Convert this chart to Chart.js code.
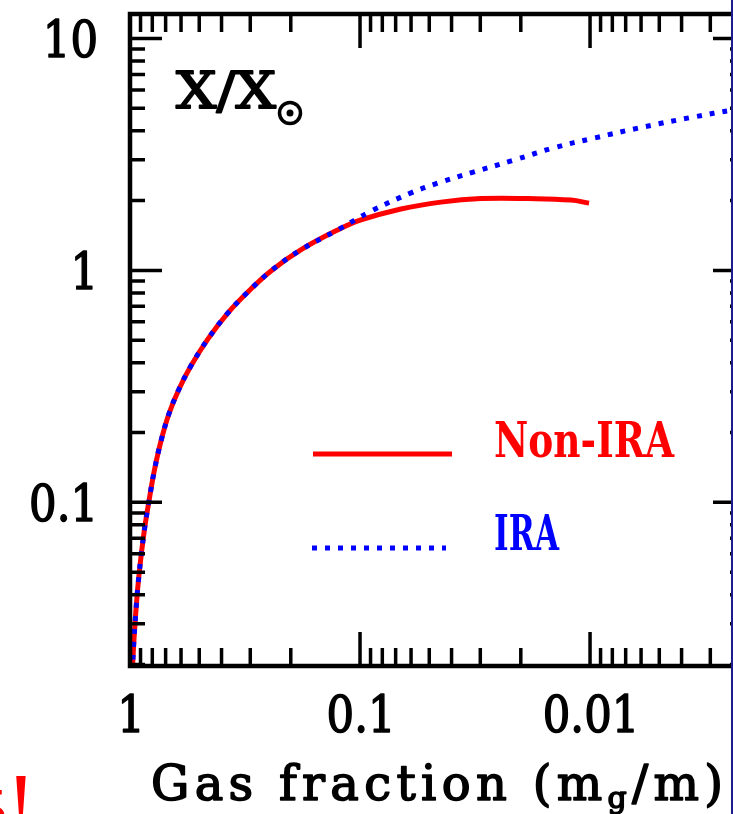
<!DOCTYPE html>
<html>
<head>
<meta charset="utf-8">
<script src="https://cdn.jsdelivr.net/npm/chart.js@4.4.0/dist/chart.umd.min.js"></script>
<style>
html, body { margin: 0; padding: 0; background: #fff; overflow: hidden; width: 733px; height: 814px; }
#wrap { position: relative; width: 733px; height: 814px; overflow: hidden; }
#edge { position: absolute; right: 0; top: 0; width: 2px; height: 814px; background: #1d1d8a; }
</style>
</head>
<body>
<div id="wrap"><canvas id="chart" width="760" height="814"></canvas><div id="edge"></div></div>
<script>
// gas fraction (m_g/m) and abundance X/X_sun, non-instantaneous recycling
var gasNonIRA   = [0.985, 0.973, 0.942, 0.911, 0.867, 0.824, 0.784, 0.733, 0.677, 0.612, 0.543, 0.458, 0.375, 0.307, 0.244, 0.181, 0.125, 0.099, 0.0664, 0.0445, 0.0298, 0.0186, 0.0121, 0.0101];
var abundNonIRA = [0.0125, 0.0203, 0.0344, 0.0502, 0.0754, 0.1035, 0.137, 0.184, 0.241, 0.308, 0.388, 0.507, 0.656, 0.808, 0.995, 1.226, 1.495, 1.65, 1.84, 1.97, 2.04, 2.04, 2.01, 1.95];

// instantaneous recycling approximation
var gasIRA   = [0.985, 0.973, 0.942, 0.911, 0.867, 0.824, 0.784, 0.733, 0.677, 0.612, 0.543, 0.458, 0.375, 0.307, 0.244, 0.181, 0.125, 0.0896, 0.060, 0.0458, 0.0319, 0.0214, 0.01435, 0.0096, 0.00582, 0.00353, 0.00239, 0.0021];
var abundIRA = [0.0125, 0.0203, 0.0344, 0.0502, 0.0754, 0.1035, 0.137, 0.184, 0.241, 0.308, 0.388, 0.507, 0.656, 0.808, 0.995, 1.226, 1.495, 1.80, 2.16, 2.38, 2.66, 2.99, 3.38, 3.72, 4.16, 4.59, 4.92, 5.0];

var xTickValues = [1, 0.1, 0.01];
var xTickLabels = ['1', '0.1', '0.01'];
var yTickValues = [10, 1, 0.1];
var yTickLabels = ['10', '1', '0.1'];

var xRange = [0.00212, 1];
var yRange = [0.0197, 12.75];

function toPoints(xs, ys) {
	return xs.map(function(v, i){ return {x: v, y: ys[i]}; });
}

// major / minor positions of a log axis between lo and hi
function logTicks(lo, hi) {
	var major = [], minor = [];
	for (var e = Math.floor(Math.log10(lo)); e <= Math.ceil(Math.log10(hi)); e++) {
		for (var k = 1; k <= 9; k++) {
			var v = k * Math.pow(10, e);
			if (v < lo * 0.999 || v > hi * 1.001) continue;
			(k === 1 ? major : minor).push(v);
		}
	}
	return {major: major, minor: minor};
}

// text with a horizontal squeeze and a thin outline to thicken the strokes
function label(ctx, str, x, y, font, align, sx, color, heavy) {
	ctx.save();
	ctx.font = font;
	ctx.fillStyle = color || '#000';
	ctx.strokeStyle = color || '#000';
	ctx.textAlign = 'left';
	ctx.textBaseline = 'alphabetic';
	var w = ctx.measureText(str).width * sx;
	var left = align === 'right' ? x - w : (align === 'center' ? x - w / 2 : x);
	ctx.translate(left, y);
	ctx.scale(sx, 1);
	ctx.fillText(str, 0, 0);
	if (heavy) {
		ctx.lineWidth = heavy;
		ctx.lineJoin = 'round';
		ctx.strokeText(str, 0, 0);
	}
	ctx.restore();
}

function fitLabel(ctx, str, left, y, width, font, color, heavy) {
	ctx.save();
	ctx.font = font;
	var sx = width / ctx.measureText(str).width;
	ctx.restore();
	label(ctx, str, left, y, font, 'left', sx, color, heavy);
}

// letters spread out evenly across a width, parts may be shifted (subscripts)
function spacedRun(ctx, parts, left, y, width, heavy) {
	var chars = [];
	ctx.save();
	ctx.fillStyle = '#000';
	ctx.strokeStyle = '#000';
	ctx.lineWidth = heavy;
	ctx.lineJoin = 'round';
	ctx.textAlign = 'left';
	ctx.textBaseline = 'alphabetic';
	parts.forEach(function(p){
		ctx.font = p.font;
		for (var i = 0; i < p.t.length; i++) {
			chars.push({c: p.t[i], font: p.font, dy: p.dy || 0, w: ctx.measureText(p.t[i]).width});
		}
	});
	var natural = chars.reduce(function(a, c){ return a + c.w; }, 0);
	var gap = (width - natural) / (chars.length - 1);
	var cx = left;
	chars.forEach(function(c){
		ctx.font = c.font;
		ctx.fillText(c.c, cx, y + c.dy);
		ctx.strokeText(c.c, cx, y + c.dy);
		cx += c.w + gap;
	});
	ctx.restore();
}

var SERIF = '"DejaVu Serif", serif';

var frame = {
	id: 'frame',
	afterDraw: function(chart) {
		var ctx = chart.ctx, a = chart.chartArea;
		var xs = chart.scales.x, ys = chart.scales.y;
		var xt = logTicks(xRange[0], xRange[1]);
		var yt = logTicks(yRange[0], yRange[1]);

		ctx.save();
		ctx.strokeStyle = '#000';
		ctx.lineCap = 'butt';
		ctx.lineWidth = 3.5;
		ctx.beginPath();
		// bottom and top ticks, pointing inward
		xt.major.concat(xt.minor).forEach(function(v){
			var px = xs.getPixelForValue(v);
			var len = xt.major.indexOf(v) >= 0 ? 34 : 18;
			ctx.moveTo(px, a.bottom); ctx.lineTo(px, a.bottom - len);
			ctx.moveTo(px, a.top); ctx.lineTo(px, a.top + len);
		});
		// left and right ticks
		yt.major.concat(yt.minor).forEach(function(v){
			var py = ys.getPixelForValue(v);
			var len = yt.major.indexOf(v) >= 0 ? 32 : 15;
			ctx.moveTo(a.left, py); ctx.lineTo(a.left + len, py);
			ctx.moveTo(a.right, py); ctx.lineTo(a.right - len, py);
		});
		ctx.stroke();

		ctx.lineWidth = 4.5;
		ctx.strokeRect(a.left, a.top, a.right - a.left, a.bottom - a.top);
		ctx.restore();

		// tick labels
		xTickValues.forEach(function(v, i){
			label(ctx, xTickLabels[i], xs.getPixelForValue(v) + 1, 732, '51px ' + SERIF, 'center', 0.85, '#000', 1.6);
		});
		yTickValues.forEach(function(v, i){
			label(ctx, yTickLabels[i], 98, ys.getPixelForValue(v) + 18.5, '51px ' + SERIF, 'right', 0.85, '#000', 1.6);
		});

		// axis titles
		spacedRun(ctx, [
			{t: 'Gas fraction (m', font: '48px ' + SERIF},
			{t: 'g', font: '30px ' + SERIF, dy: 8},
			{t: '/m)', font: '48px ' + SERIF}
		], 151, 800, 572, 1.6);

		fitLabel(ctx, 'X/X', 176, 108, 100, '50px ' + SERIF, '#000', 1.8);
		ctx.save();
		ctx.strokeStyle = '#000';
		ctx.fillStyle = '#000';
		ctx.lineWidth = 3.5;
		ctx.beginPath();
		ctx.arc(290, 113, 10.5, 0, Math.PI * 2);
		ctx.stroke();
		ctx.beginPath();
		ctx.arc(290, 113, 3.5, 0, Math.PI * 2);
		ctx.fill();
		ctx.restore();

		// key
		ctx.save();
		ctx.lineCap = 'butt';
		ctx.strokeStyle = '#ff0000';
		ctx.lineWidth = 5;
		ctx.beginPath(); ctx.moveTo(313, 454); ctx.lineTo(452, 454); ctx.stroke();
		ctx.strokeStyle = '#0000ff';
		ctx.lineWidth = 5;
		ctx.setLineDash([5, 8]);
		ctx.beginPath(); ctx.moveTo(312, 548); ctx.lineTo(446, 548); ctx.stroke();
		ctx.restore();
		fitLabel(ctx, 'Non-IRA', 494, 457, 180, 'bold 48px ' + SERIF, '#ff0000');
		fitLabel(ctx, 'IRA', 494, 550, 65, 'bold 48px ' + SERIF, '#0000ff');

		// stray red marks at the lower left edge
		label(ctx, '5', 7, 829, '60px "Liberation Serif"', 'right', 1, '#ff0000');
		label(ctx, '!', 21, 836, 'bold 92px "Liberation Serif"', 'center', 0.7, '#ff0000');
	}
};

var ctx = document.getElementById('chart').getContext('2d');
var chart = new Chart(ctx, {
	type: 'line',
	data: {
		datasets: [{
			label: 'IRA',
			data: toPoints(gasIRA, abundIRA),
			borderColor: '#0000ff',
			borderWidth: 5,
			borderDash: [5, 8],
			borderCapStyle: 'butt',
			pointRadius: 0,
			tension: 0.4,
			fill: false
		}, {
			label: 'Non-IRA',
			data: toPoints(gasNonIRA, abundNonIRA),
			borderColor: '#ff0000',
			borderWidth: 5,
			pointRadius: 0,
			tension: 0.4,
			fill: false
		}]
	},
	options: {
		responsive: false,
		animation: false,
		layout: { padding: { left: 130, top: 14, right: 15, bottom: 148 } },
		scales: {
			x: { type: 'logarithmic', reverse: true, min: xRange[0], max: xRange[1], bounds: 'data', display: false },
			y: { type: 'logarithmic', min: yRange[0], max: yRange[1], bounds: 'data', display: false }
		},
		plugins: { legend: { display: false }, tooltip: { enabled: false } }
	},
	plugins: [frame]
});
</script>
</body>
</html>
